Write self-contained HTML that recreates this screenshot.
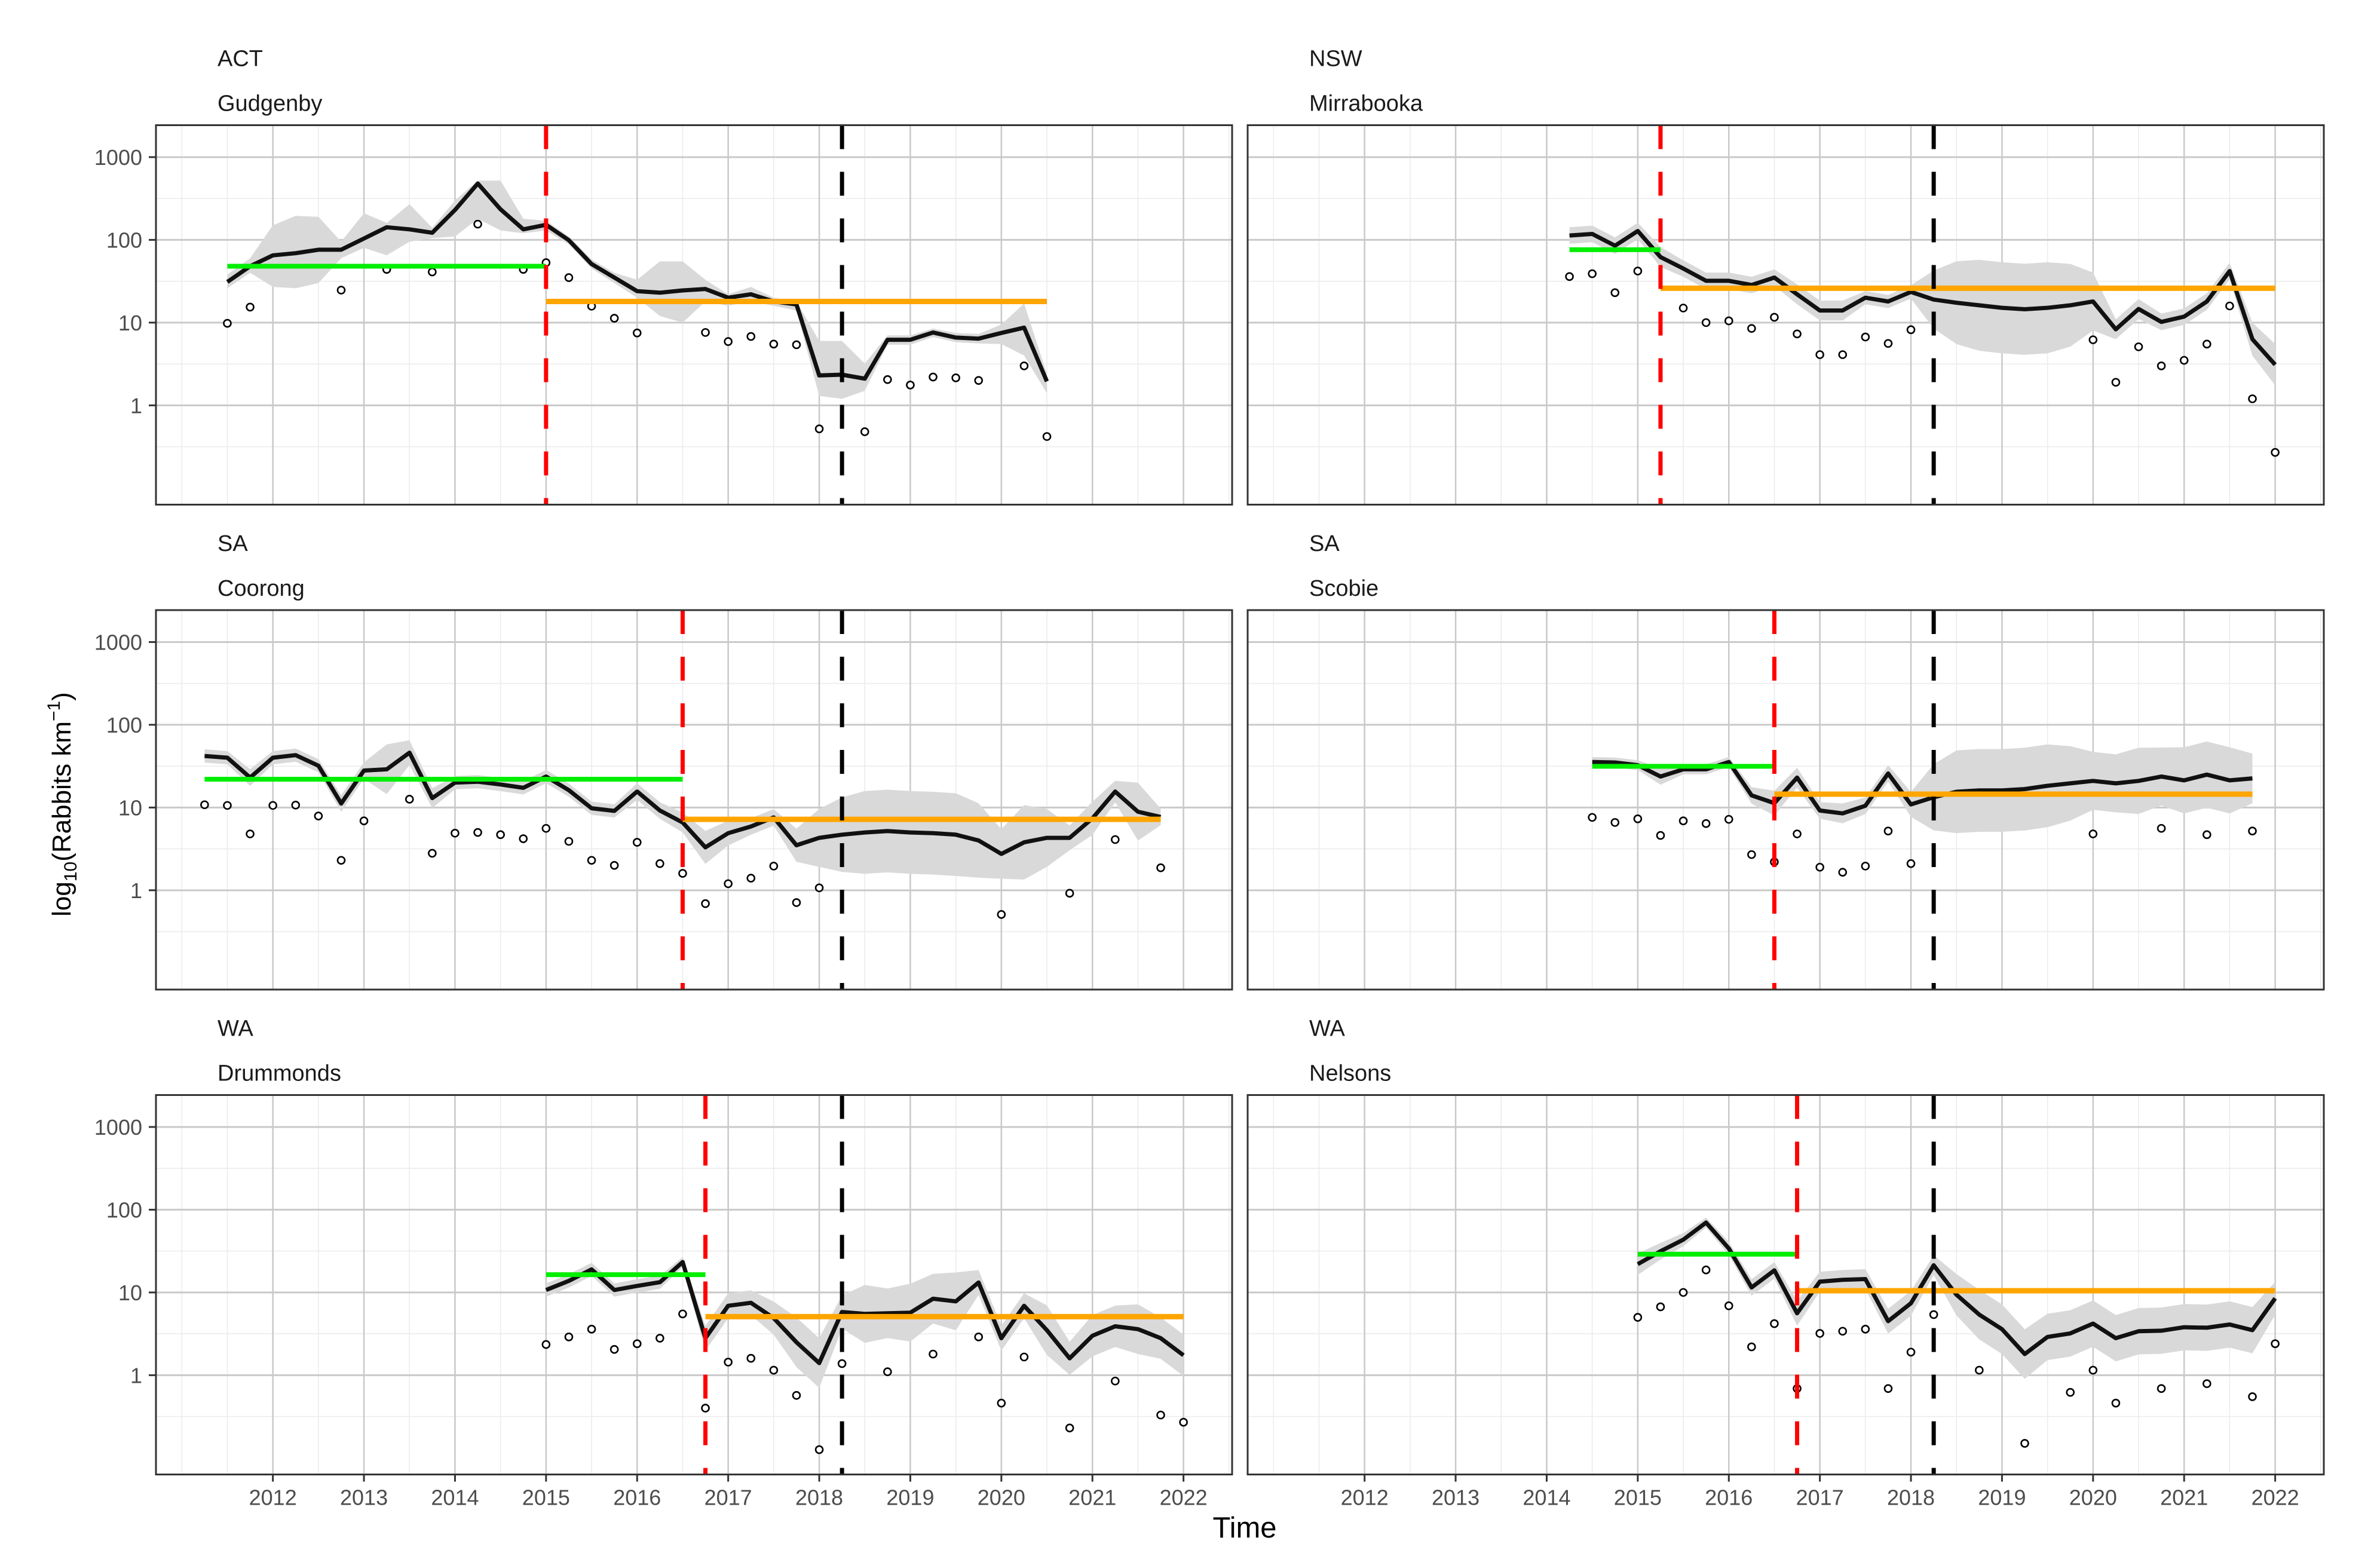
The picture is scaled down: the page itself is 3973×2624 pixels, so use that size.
<!DOCTYPE html>
<html><head><meta charset="utf-8"><title>Rabbit abundance by site</title>
<style>html,body{margin:0;padding:0;background:#fff;}svg{display:block;font-family:"Liberation Sans",Arial,sans-serif;}</style></head>
<body>
<svg id="chart" xmlns="http://www.w3.org/2000/svg" width="3973" height="2624" viewBox="0 0 3973 2624">
<rect x="0" y="0" width="3973" height="2624" fill="#fff"/>
<text x="2083" y="2573" font-size="49" text-anchor="middle" fill="#000">Time</text>
<text transform="translate(118,1346) rotate(-90)" font-size="44" text-anchor="middle" fill="#000">log<tspan font-size="30" dy="10">10</tspan><tspan dy="-10">(Rabbits km</tspan><tspan font-size="30" dy="-18">−1</tspan><tspan dy="18">)</tspan></text>
</svg>
<script>
// ---- data ----
const panelStates = ["ACT","NSW","SA","SA","WA","WA"];
const panelSites = ["Gudgenby","Mirrabooka","Coorong","Scobie","Drummonds","Nelsons"];
const estStart = [2011.5, 2014.25, 2011.25, 2014.5, 2015, 2015];

const estACT = [31,48,65,69,76,76,104,142,134,122,230,480,234,134,152,99,51,35,24,23,24.5,25.5,20,22,18,16.6,2.3,2.35,2.1,6.2,6.2,7.6,6.6,6.4,7.5,8.7,1.95];
const hiACT = [38,60,150,195,190,95,210,160,270,140,300,520,520,180,170,110,58,40,33,55,55,33,22,27,20,18,6,6,3.2,7,7,8.5,7.5,7.3,9.5,17,2.4];
const loACT = [26,40,27,26,30,60,80,65,95,105,110,180,130,120,130,88,45,30,20,12,10,18,16,18,16,14,1.3,1.2,1.5,5.4,5.4,6.7,5.8,5.6,5.5,4.0,1.4];
const obsTACT = [2011.5,2011.75,2012.75,2013.25,2013.75,2014.25,2014.75,2015,2015.25,2015.5,2015.75,2016,2016.75,2017,2017.25,2017.5,2017.75,2018,2018.5,2018.75,2019,2019.25,2019.5,2019.75,2020.25,2020.5];
const obsVACT = [9.8,15.4,24.7,44,41,155,44,53,35,15.8,11.3,7.5,7.6,5.9,6.8,5.5,5.4,0.52,0.48,2.05,1.76,2.2,2.15,2.0,3.0,0.42];

const estNSW = [113,118,85,128,62,45,32,32,28.5,35,22,14,14,20,18,23.5,19,17.4,16.2,15.1,14.5,15.1,16.2,18,8.3,14.6,10.2,11.8,18,42,6.3,3.1];
const ciNSW = [0.1,0.1,0.1,0.1,0.12,0.1,0.1,0.1,0.1,0.1,0.12,0.12,0.12,0.08,0.08,0.08,0.35,0.5,0.55,0.55,0.55,0.55,0.5,0.35,0.12,0.12,0.1,0.1,0.1,0.1,0.2,0.25];
const obsTNSW = [2014.25,2014.5,2014.75,2015,2015.5,2015.75,2016,2016.25,2016.5,2016.75,2017,2017.25,2017.5,2017.75,2018,2020,2020.25,2020.5,2020.75,2021,2021.25,2021.5,2021.75,2022];
const obsVNSW = [36,39,23,42,15,10,10.5,8.5,11.6,7.3,4.1,4.1,6.7,5.6,8.2,6.2,1.9,5.1,3.0,3.5,5.5,15.9,1.2,0.27];

const estCoorong = [42,40,23,40,43,32,11.2,28,29,46,13,20,20.5,19,17.3,23.7,16.2,9.8,9.1,15.6,9.2,6.6,3.3,4.9,5.9,7.6,3.5,4.3,4.7,5.0,5.2,5.0,4.9,4.7,4.0,2.75,3.8,4.3,4.3,7.4,15.6,8.9,7.7];
const ciCoorong = [0.08,0.08,0.1,0.08,0.08,0.08,0.1,0.1,0.3,0.15,0.12,0.08,0.08,0.08,0.08,0.08,0.08,0.08,0.08,0.1,0.1,0.12,0.2,0.15,0.1,0.1,0.2,0.35,0.45,0.5,0.5,0.5,0.5,0.5,0.45,0.3,0.45,0.35,0.15,0.2,0.13,0.35,0.1];
const obsTCoorong = [2011.25,2011.5,2011.75,2012,2012.25,2012.5,2012.75,2013,2013.5,2013.75,2014,2014.25,2014.5,2014.75,2015,2015.25,2015.5,2015.75,2016,2016.25,2016.5,2016.75,2017,2017.25,2017.5,2017.75,2018,2020,2020.75,2021.25,2021.75];
const obsVCoorong = [10.8,10.6,4.8,10.6,10.7,7.9,2.3,6.9,12.6,2.8,4.9,5.0,4.7,4.2,5.6,3.9,2.3,2.0,3.8,2.1,1.6,0.69,1.2,1.4,1.96,0.71,1.07,0.51,0.92,4.1,1.87];

const estScobie = [35.5,35,32.5,23.7,29,29,35.5,14,11.3,23,9.2,8.5,10.5,25.8,10.9,13.3,15.5,16.1,16.1,16.7,18.3,19.6,21,19.6,21,23.7,21.3,25,21.3,22.5];
const ciScobie = [0.06,0.06,0.06,0.1,0.06,0.06,0.06,0.1,0.15,0.12,0.1,0.12,0.1,0.1,0.15,0.4,0.5,0.5,0.5,0.5,0.5,0.45,0.35,0.35,0.4,0.35,0.4,0.4,0.4,0.3];
const obsTScobie = [2014.5,2014.75,2015,2015.25,2015.5,2015.75,2016,2016.25,2016.5,2016.75,2017,2017.25,2017.5,2017.75,2018,2020,2020.75,2021.25,2021.75];
const obsVScobie = [7.6,6.6,7.3,4.6,6.9,6.4,7.2,2.7,2.2,4.8,1.9,1.65,1.96,5.2,2.1,4.8,5.6,4.7,5.2];

const estDrummonds = [10.7,13.8,19,10.7,12,13.3,23.3,2.8,6.9,7.5,4.9,2.5,1.4,5.8,5.5,5.6,5.7,8.4,7.8,13.2,2.8,6.9,3.5,1.6,3.0,3.9,3.6,2.8,1.74];
const ciDrummonds = [0.08,0.08,0.08,0.08,0.08,0.08,0.06,0.15,0.15,0.15,0.2,0.3,0.3,0.2,0.35,0.3,0.35,0.3,0.35,0.15,0.15,0.15,0.3,0.2,0.25,0.25,0.3,0.25,0.25];
const obsTDrummonds = [2015,2015.25,2015.5,2015.75,2016,2016.25,2016.5,2016.75,2017,2017.25,2017.5,2017.75,2018,2018.25,2018.75,2019.25,2019.75,2020,2020.25,2020.75,2021.25,2021.75,2022];
const obsVDrummonds = [2.35,2.9,3.6,2.05,2.4,2.8,5.5,0.40,1.44,1.6,1.15,0.57,0.126,1.38,1.1,1.8,2.9,0.46,1.66,0.23,0.85,0.33,0.27];

const estNelsons = [22,31.5,43.5,70,34,11.5,18.5,5.6,13.5,14.2,14.5,4.5,7.4,21.3,9.4,5.4,3.6,1.8,2.9,3.2,4.2,2.8,3.4,3.45,3.8,3.75,4.1,3.5,8.5];
const ciNelsons = [0.13,0.1,0.08,0.06,0.08,0.1,0.1,0.15,0.12,0.12,0.12,0.15,0.15,0.12,0.25,0.3,0.3,0.3,0.28,0.28,0.28,0.28,0.28,0.28,0.28,0.28,0.28,0.28,0.2];
const obsTNelsons = [2015,2015.25,2015.5,2015.75,2016,2016.25,2016.5,2016.75,2017,2017.25,2017.5,2017.75,2018,2018.25,2018.75,2019.25,2019.75,2020,2020.25,2020.75,2021.25,2021.75,2022];
const obsVNelsons = [5.0,6.7,10,18.7,6.9,2.2,4.2,0.69,3.2,3.4,3.6,0.69,1.9,5.4,1.15,0.15,0.62,1.15,0.46,0.69,0.79,0.55,2.4];

const preStart = [2011.5, 2014.25, 2011.25, 2014.5, 2015, 2015];
const preEnd = [2015, 2015.25, 2016.5, 2016.5, 2016.75, 2016.75];
const preMean = [48, 76, 22, 31.5, 16.4, 29];
const postEnd = [2020.5, 2022, 2021.75, 2021.75, 2022, 2022];
const postMean = [18, 26, 7.2, 14.5, 5.1, 10.5];
const releaseYear = [2015, 2015.25, 2016.5, 2016.5, 2016.75, 2016.75];
const k5Year = 2018.25;

const yTickValues = [1, 10, 100, 1000];
const yTickLabels = ["1", "10", "100", "1000"];
const xTickYears = [2012,2013,2014,2015,2016,2017,2018,2019,2020,2021,2022];

const estAll = [estACT, estNSW, estCoorong, estScobie, estDrummonds, estNelsons];
const ciAll = [null, ciNSW, ciCoorong, ciScobie, ciDrummonds, ciNelsons];
const obsTAll = [obsTACT, obsTNSW, obsTCoorong, obsTScobie, obsTDrummonds, obsTNelsons];
const obsVAll = [obsVACT, obsVNSW, obsVCoorong, obsVScobie, obsVDrummonds, obsVNelsons];

// ---- layout ----
const NS = "http://www.w3.org/2000/svg";
const svg = document.getElementById("chart");
const colX = [261, 2088], panelW = 1801;
const rowY = [209.5, 1021, 1832.5], panelH = 635;
const xMin = 2010.716, xMax = 2022.534, lMin = -1.2, lMax = 3.386;

function mk(tag, attrs, parent) {
  const e = document.createElementNS(NS, tag);
  for (const k in attrs) e.setAttribute(k, attrs[k]);
  (parent || svg).appendChild(e);
  return e;
}

for (let p = 0; p < 6; p++) {
  const px = colX[p % 2], py = rowY[Math.floor(p / 2)];
  const sx = t => px + (t - xMin) / (xMax - xMin) * panelW;
  const sy = v => py + (lMax - Math.log10(v)) / (lMax - lMin) * panelH;
  const syl = l => py + (lMax - l) / (lMax - lMin) * panelH;
  const g = mk("g", {});
  
  

  const clipId = "clip" + p;
  const cp = mk("clipPath", { id: clipId }, g);
  mk("rect", { x: px, y: py, width: panelW, height: panelH }, cp);

  const st = mk("text", { x: px + 103, y: py - 99, "font-size": 38, fill: "#1a1a1a" }, g);
  st.textContent = panelStates[p];
  
  
  const si = mk("text", { x: px + 103, y: py - 24, "font-size": 38, fill: "#1a1a1a" }, g);
  si.textContent = panelSites[p];
  
  

  const grid = mk("g", { "clip-path": "url(#" + clipId + ")" }, g);
  
  
  for (let l = -0.5; l <= 3.5; l += 1) {
    mk("line", { x1: px, x2: px + panelW, y1: syl(l), y2: syl(l), stroke: "#ececec", "stroke-width": 1.6 }, grid);
  }
  for (let yr = 2011; yr <= 2022.6; yr += 0.5) {
    if (Math.abs(yr - Math.round(yr)) < 0.01 && yr >= 2012) continue;
    mk("line", { x1: sx(yr), x2: sx(yr), y1: py, y2: py + panelH, stroke: "#ececec", "stroke-width": 1.6 }, grid);
  }
  yTickValues.forEach(v => {
    mk("line", { x1: px, x2: px + panelW, y1: sy(v), y2: sy(v), stroke: "#c9c9c9", "stroke-width": 3 }, grid);
  });
  xTickYears.forEach(yr => {
    mk("line", { x1: sx(yr), x2: sx(yr), y1: py, y2: py + panelH, stroke: "#c9c9c9", "stroke-width": 2.5 }, grid);
  });

  const plot = mk("g", { "clip-path": "url(#" + clipId + ")" }, g);
  const est = estAll[p];
  const tt = est.map((v, i) => estStart[p] + i * 0.25);
  let hi, lo;
  if (p === 0) { hi = hiACT; lo = loACT; }
  else { hi = est.map((v, i) => v * Math.pow(10, ciAll[p][i])); lo = est.map((v, i) => v / Math.pow(10, ciAll[p][i])); }
  let d = "";
  tt.forEach((t, i) => { d += (i ? "L" : "M") + sx(t).toFixed(1) + "," + sy(hi[i]).toFixed(1); });
  for (let i = tt.length - 1; i >= 0; i--) d += "L" + sx(tt[i]).toFixed(1) + "," + sy(lo[i]).toFixed(1);
  const rib = mk("path", { d: d + "Z", fill: "#d9d9d9" }, plot);
  
  

  let dl = "";
  tt.forEach((t, i) => { dl += (i ? "L" : "M") + sx(t).toFixed(1) + "," + sy(est[i]).toFixed(1); });
  const ln = mk("path", { d: dl, fill: "none", stroke: "#111", "stroke-width": 7, "stroke-linejoin": "round" }, plot);
  
  

  obsTAll[p].forEach((t, i) => {
    const c = mk("circle", { cx: sx(t), cy: sy(obsVAll[p][i]), r: 6, fill: "#fff", stroke: "#000", "stroke-width": 2.6 }, plot);
    
    
  });

  const pre = mk("line", { x1: sx(preStart[p]), x2: sx(preEnd[p]), y1: sy(preMean[p]), y2: sy(preMean[p]), stroke: "#00ee00", "stroke-width": 8 }, plot);
  
  
  const post = mk("line", { x1: sx(releaseYear[p]), x2: sx(postEnd[p]), y1: sy(postMean[p]), y2: sy(postMean[p]), stroke: "#ffa500", "stroke-width": 9 }, plot);
  
  

  const rv = mk("line", { x1: sx(releaseYear[p]), x2: sx(releaseYear[p]), y1: py, y2: py + panelH, stroke: "#ff0000", "stroke-width": 7, "stroke-dasharray": "40 38" }, plot);
  
  
  const kv = mk("line", { x1: sx(k5Year), x2: sx(k5Year), y1: py, y2: py + panelH, stroke: "#000", "stroke-width": 7, "stroke-dasharray": "40 38" }, plot);
  
  

  const border = mk("rect", { x: px, y: py, width: panelW, height: panelH, fill: "none", stroke: "#333", "stroke-width": 3 }, g);
  
  

  if (p % 2 === 0) {
    yTickValues.forEach((v, i) => {
      mk("line", { x1: px - 12, x2: px, y1: sy(v), y2: sy(v), stroke: "#333", "stroke-width": 3 }, g);
      const tl = mk("text", { x: px - 23, y: sy(v) + 13, "font-size": 36, "text-anchor": "end", fill: "#4d4d4d" }, g);
      tl.textContent = yTickLabels[i];
      
      
    });
  }
  if (p >= 4) {
    xTickYears.forEach(yr => {
      mk("line", { x1: sx(yr), x2: sx(yr), y1: py + panelH, y2: py + panelH + 12, stroke: "#333", "stroke-width": 3 }, g);
      const xl = mk("text", { x: sx(yr), y: py + panelH + 51, "font-size": 36, "text-anchor": "middle", fill: "#4d4d4d" }, g);
      xl.textContent = String(yr);
      
      
    });
  }
}
</script>
</body></html>
